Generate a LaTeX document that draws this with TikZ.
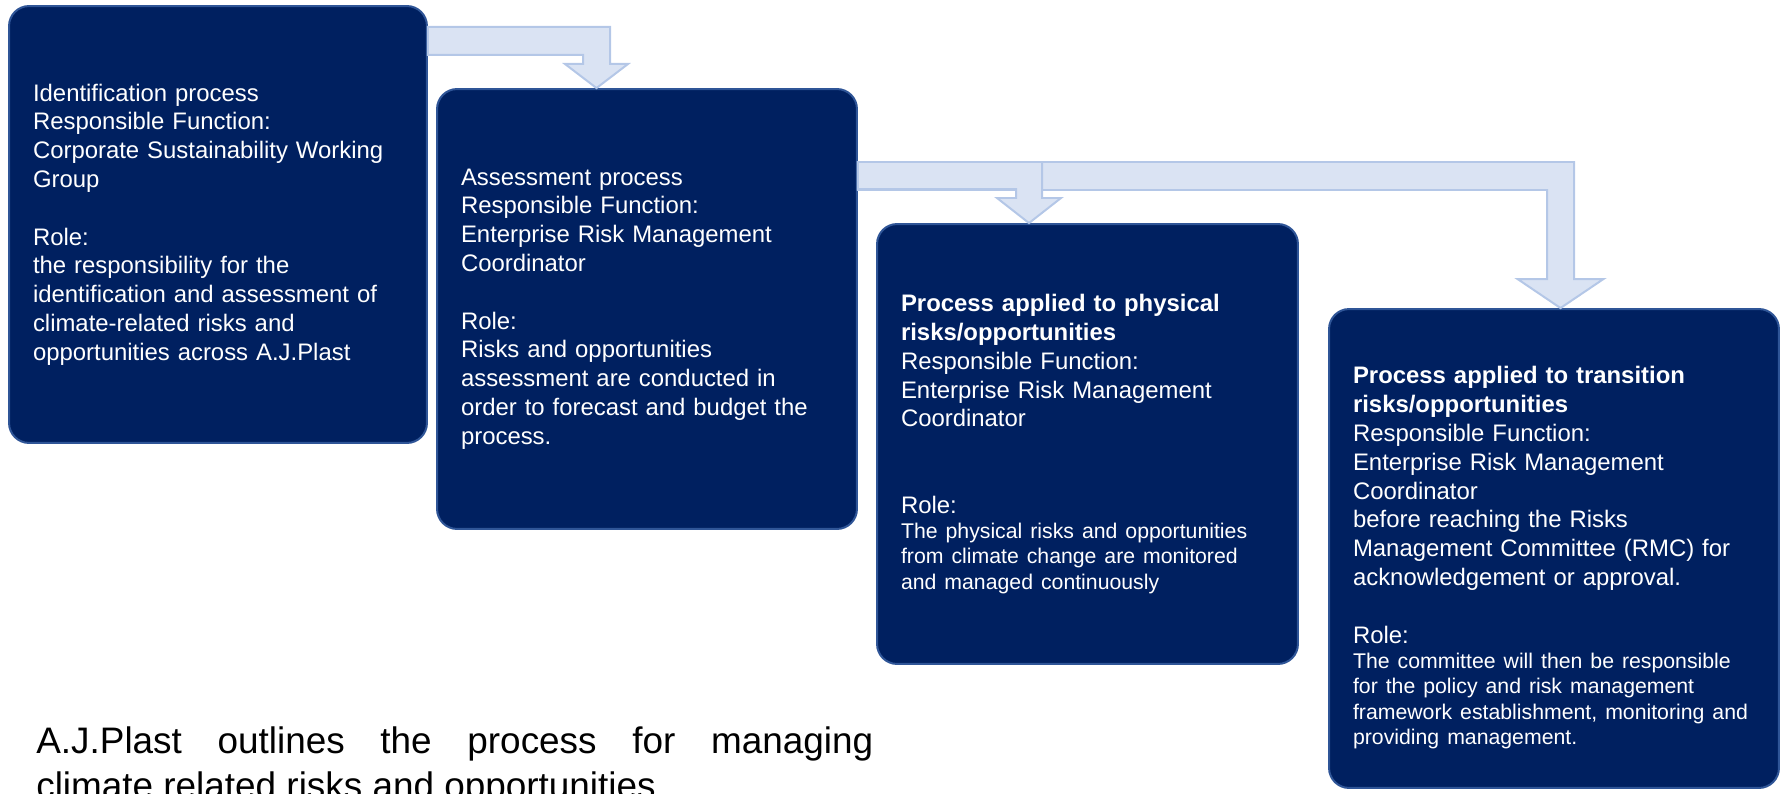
\documentclass[tikz,border=0pt]{standalone}
\usepackage{fontspec}
\setmainfont{Liberation Sans}
\usepackage{tikz}
\usetikzlibrary{calc}
\definecolor{navybox}{HTML}{002060}
\definecolor{navyedge}{HTML}{2F5597}
\definecolor{arrowfill}{HTML}{DAE3F3}
\definecolor{arrowedge}{HTML}{B4C7E7}
\newcommand\rolefont{\fontsize{12.1}{14.4}\selectfont}
\tikzset{
	procbox/.style={draw=navyedge, fill=navybox, line width=0.04cm, rounded corners=0.4cm,
		text=white, align=left, inner xsep=0.48cm, inner ysep=0pt,
		font=\fontsize{13.6}{16.4}\selectfont},
	blockarrow/.style={draw=arrowedge, fill=arrowfill, line width=0.04cm, line join=miter}
}
% bent block arrow: (source:shaft top:shaft bottom)(target:x of tip)(half shaft:head top:half head)
\def\bentarrow(#1:#2:#3)(#4:#5)(#6:#7:#8){\draw[blockarrow] (#1.east |- 0,#2) -- (#5+#6,#2) -- (#5+#6,#7) -- (#5+#8,#7) -- (#5,0 |- #4.north) -- (#5-#8,#7) -- (#5-#6,#7) -- (#5-#6,#3) -- (#1.east |- 0,#3) -- cycle;}

\begin{document}
\begin{tikzpicture}[x=0.02cm, y=-0.02cm]
			%%%%% START %%%%%
			\useasboundingbox (0,0) rectangle (1789,794);
			\clip (0,0) rectangle (1789,794);
			
			\node[procbox, minimum width=8.36cm, minimum height=8.74cm, text width=7.40cm] (ident) at (218,224.5) {%
				Identification process\\
				Responsible Function:\\
				Corporate Sustainability Working\\
				Group\\
				\mbox{}\\
				Role:\\
				the responsibility for the\\
				identification and assessment of\\
				climate-related risks and\\
				opportunities across A.J.Plast};
			
			\node[procbox, minimum width=8.40cm, minimum height=8.80cm, text width=7.44cm] (assess) at (647,309) {%
				Assessment process\\
				Responsible Function:\\
				Enterprise Risk Management\\
				Coordinator\\
				\mbox{}\\
				Role:\\
				Risks and opportunities\\
				assessment are conducted in\\
				order to forecast and budget the\\
				process.};
			
			\node[procbox, minimum width=8.42cm, minimum height=8.80cm, text width=7.46cm] (physical) at (1087.5,444) {%
				\textbf{Process applied to physical\\
				risks/opportunities}\\
				Responsible Function:\\
				Enterprise Risk Management\\
				Coordinator\\
				\mbox{}\\
				\mbox{}\\
				Role:\par
				{\rolefont The physical risks and opportunities\\
				from climate change are monitored\\
				and managed continuously\par}};
			
			% the tall strut pushes this block a little lower in its box
			\node[procbox, minimum width=9.00cm, minimum height=9.58cm, text width=8.04cm] (transition) at (1554,548.5) {%
				\rule{0pt}{0.71cm}\textbf{Process applied to transition\\
				risks/opportunities}\\
				Responsible Function:\\
				Enterprise Risk Management\\
				Coordinator\\
				before reaching the Risks\\
				Management Committee (RMC) for\\
				acknowledgement or approval.\\
				\mbox{}\\
				Role:\par
				{\rolefont The committee will then be responsible\\
				for the policy and risk management\\
				framework establishment, monitoring and\\
				providing management.\par}};
			
			% arrows between the steps
			\bentarrow(ident:27:55)(assess:596.5)(13.5:64:31.5)
			\bentarrow(assess:162:190)(transition:1560.5)(13.5:279:43)
			\bentarrow(assess:162:189)(physical:1029)(13:198:32)
			
			\node[anchor=north west, inner sep=0pt, text width=16.74cm, align=justify,
				font=\fontsize{21}{25.6}\selectfont] (summary) at (36,726) {%
				A.J.Plast outlines the process for managing\linebreak
				climate related risks and opportunities};
			%%%%% END %%%%%
\end{tikzpicture}
\end{document}
